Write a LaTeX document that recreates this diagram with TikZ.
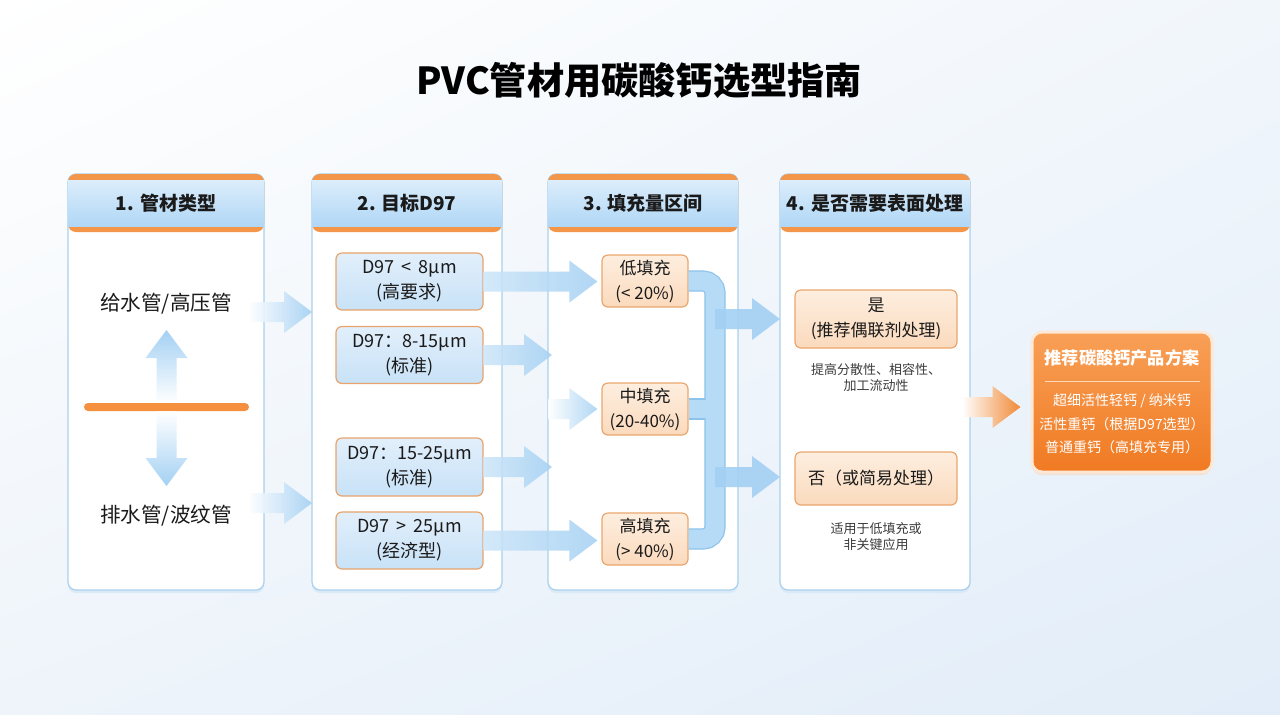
\documentclass[tikz,border=0pt]{standalone}
\usepackage{fontspec}
\setmainfont{Noto Sans CJK SC}
\usetikzlibrary{positioning,calc,shadows,shadings}

\definecolor{ink}{HTML}{1A1A1A}
\definecolor{panelline}{HTML}{A9D0EC}
\definecolor{shadowblue}{HTML}{D6E8F7}
\definecolor{hdrtop}{HTML}{DCEDFB}
\definecolor{hdrbot}{HTML}{B0D7F6}
\definecolor{hdrorange}{HTML}{F4964A}
\definecolor{dline}{HTML}{E8A46C}
\definecolor{dtop}{HTML}{E2EFFB}
\definecolor{dbot}{HTML}{C8E2F7}
\definecolor{fline}{HTML}{EBA66E}
\definecolor{ftop}{HTML}{FDEEDF}
\definecolor{fbot}{HTML}{FBDABD}
\definecolor{arrowblue}{HTML}{A3D0F3}
\definecolor{pipeline}{HTML}{8DC3EB}
\definecolor{pipefill}{HTML}{B5DBF7}
\definecolor{barorange}{HTML}{F4903E}
\definecolor{restop}{HTML}{F8A057}
\definecolor{resbot}{HTML}{F07A22}
\definecolor{outorange}{HTML}{F08A36}
\definecolor{bgtr}{HTML}{F1F6FB}
\definecolor{bgbl}{HTML}{EEF4FA}
\definecolor{bgbr}{HTML}{E2EDF9}

\begin{document}
\begin{tikzpicture}[x=0.5pt, y=-0.5pt, every node/.style={font=\fontsize{8.5}{12.5}\selectfont, text=ink}]
    \tikzset{panel/.style={rectangle, draw=panelline, fill=white, rounded corners=4pt, line width=0.6pt, outer sep=0pt, minimum width=95pt, minimum height=208pt, drop shadow={shadow xshift=0pt, shadow yshift=-1.5pt, fill=shadowblue, opacity=0.8}}}
    \tikzset{hdr/.style={rectangle, top color=hdrtop, bottom color=hdrbot, minimum width=95pt, minimum height=23pt, inner sep=0pt, font=\bfseries\fontsize{9.5}{11}\selectfont}}
    \tikzset{dbox/.style={rectangle, draw=dline, top color=dtop, bottom color=dbot, rounded corners=3pt, line width=0.6pt, minimum width=73.5pt, minimum height=28.5pt, inner sep=0pt, align=center, font=\fontsize{9}{12.5}\selectfont}}
    \tikzset{fbox/.style={rectangle, draw=fline, top color=ftop, bottom color=fbot, rounded corners=3pt, line width=0.6pt, minimum width=43pt, minimum height=26pt, inner sep=0pt, align=center}}
    \tikzset{ybox/.style={fbox, minimum width=81pt, minimum height=29pt}}
    \tikzset{note/.style={align=center, font=\fontsize{6.5}{8}\selectfont, text=ink!85}}
    \tikzset{barrow/.style={to path={let \p1=(\tikztostart), \p2=(\tikztotarget) in
        (\x1,\y1+5pt) -- (\x2-14pt,\y1+5pt) -- (\x2-14pt,\y1+10.5pt) -- (\x2,\y1)
        -- (\x2-14pt,\y1-10.5pt) -- (\x2-14pt,\y1-5pt) -- (\x1,\y1-5pt) -- cycle}}}
    \tikzset{uarrow/.style={to path={let \p1=(\tikztostart), \p2=(\tikztotarget) in
        (\x1-5pt,\y1) -- (\x1-5pt,\y2-14pt) -- (\x1-10.5pt,\y2-14pt) -- (\x1,\y2)
        -- (\x1+10.5pt,\y2-14pt) -- (\x1+5pt,\y2-14pt) -- (\x1+5pt,\y1) -- cycle}}}
    \tikzset{darrow/.style={to path={let \p1=(\tikztostart), \p2=(\tikztotarget) in
        (\x1-5pt,\y1) -- (\x1-5pt,\y2+14pt) -- (\x1-10.5pt,\y2+14pt) -- (\x1,\y2)
        -- (\x1+10.5pt,\y2+14pt) -- (\x1+5pt,\y2+14pt) -- (\x1+5pt,\y1) -- cycle}}}
    \tikzset{fadearrow/.style={left color=white, right color=arrowblue, opacity=0.9}}
    \tikzset{flowarrow/.style={left color=arrowblue!55, right color=arrowblue, opacity=0.85}}

    % Background
    \useasboundingbox (0,0) rectangle (1280,714);
    \shade[upper left=white, upper right=bgtr, lower left=bgbl, lower right=bgbr] (0,0) rectangle (1280,714);
    \node[font=\bfseries\fontsize{18.6}{20}\selectfont, text=black] (title) at (639,80) {PVC管材用碳酸钙选型指南};

    % Panels
    \node [panel, minimum width=98pt] (p1) at (166,382) {};
    \node [panel] (p2) at (407,382) {};
    \node [panel] (p3) at (643,382) {};
    \node [panel] (p4) at (875,382) {};
    \fill [hdrorange, rounded corners=4pt] (p1.north west) rectangle ++(196,58);
    \fill [hdrorange, rounded corners=4pt] (p2.north west) rectangle ++(190,58);
    \fill [hdrorange, rounded corners=4pt] (p3.north west) rectangle ++(190,58);
    \fill [hdrorange, rounded corners=4pt] (p4.north west) rectangle ++(190,58);
    \node [hdr, minimum width=98pt] (h1) at (166,203) {1. 管材类型};
    \node [hdr] (h2) at (407,203) {2. 目标D97};
    \node [hdr] (h3) at (643,203) {3. 填充量区间};
    \node [hdr] (h4) at (875,203) {4. 是否需要表面处理};

    % Pipe types
    \node [font=\fontsize{10.3}{12}\selectfont] (t1) at (166,304) {给水管/高压管};
    \node [font=\fontsize{10.3}{12}\selectfont] (t2) at (166,516) {排水管/波纹管};
    \node [fill=barorange, rounded corners=2pt, minimum width=82.5pt, minimum height=4pt, inner sep=0pt] (bar) at (166.5,407) {};
    \coordinate (upt) at (166,330);
    \coordinate (dnt) at (166,486);
    \shade [bottom color=white, top color=arrowblue] (bar.north) to[uarrow] (upt);
    \shade [top color=white, bottom color=arrowblue] (bar.south) to[darrow] (dnt);

    % D97
    \node [dbox] (d1) at (409.5,281.5) {D97 \,<\, 8μm\\(高要求)};
    \node [dbox] (d2) at (409.5,355) {D97：8-15μm\\(标准)};
    \node [dbox, minimum height=29pt] (d3) at (409.5,467) {D97：15-25μm\\(标准)};
    \node [dbox] (d4) at (409.5,540.5) {D97 \,>\, 25μm\\(经济型)};

    % Filling
    \node [fbox] (f1) at (645,281) {低填充\\(< 20\%)};
    \node [fbox] (f2) at (645,409) {中填充\\(20-40\%)};
    \node [fbox] (f3) at (645,539) {高填充\\(> 40\%)};

    % Surface treatment
    \node [ybox] (y1) at (876,319) {是\\(推荐偶联剂处理)};
    \node [note, below=4pt of y1] (y1n) {提高分散性、相容性、\\加工流动性};
    \node [ybox, minimum height=26.5pt] (n1) at (876,478.5) {否（或简易处理）};
    \node [note, below=5pt of n1] (n1n) {适用于低填充或\\非关键应用};

    % Result
    \node [rectangle, top color=restop, bottom color=resbot, draw=white!75!restop, line width=1.5pt, rounded corners=5pt, minimum width=90pt, minimum height=70pt, drop shadow={shadow xshift=0pt, shadow yshift=-1.5pt, fill=resbot!30, opacity=0.6}] (res) at (1122,402) {};
    \node [font=\bfseries\fontsize{8.6}{10}\selectfont, text=white] (rt) at (1122,358) {推荐碳酸钙产品方案};
    \node [align=center, font=\fontsize{7}{11.7}\selectfont, text=white] (rl) at (1122,424) {超细活性轻钙 / 纳米钙\\活性重钙（根据D97选型）\\普通重钙（高填充专用）};
    \draw [white!60!restop, line width=0.5pt] ($(res.west |- rt.south)+(14,8)$) -- ($(res.east |- rt.south)+(-14,8)$);

    % Arrows
    \coordinate (a1s) at (248,312);
    \coordinate (a2s) at (248,503);
    \path [fadearrow] (a1s) to[barrow] (p2.west |- a1s);
    \path [fadearrow] (a2s) to[barrow] (p2.west |- a2s);

    \path [flowarrow] (d1.east) to[barrow] ([xshift=-2pt]f1.west);
    \path [flowarrow] (d2.east) to[barrow] ([xshift=2pt]p3.west |- d2.east);
    \coordinate (b3s) at (548,409);
    \path [flowarrow, left color=white] (b3s) to[barrow] ([xshift=-2pt]f2.west);
    \path [flowarrow] (d3.east) to[barrow] ([xshift=2pt]p3.west |- d3.east);
    \path [flowarrow] (d4.east) to[barrow] ([xshift=-2pt]f3.west);

    \coordinate (bus) at (715,409);
    \draw [pipeline, line width=10.6pt, rounded corners=6pt] (f1.east) -| (bus) |- (f3.east);
    \draw [pipeline, line width=10.6pt] (f2.east) -- (bus);
    \draw [pipefill, line width=9.4pt, rounded corners=6pt] (f1.east) -| (bus) |- (f3.east);
    \draw [pipefill, line width=9.4pt] (f2.east) -- (bus);

    \coordinate (c1s) at (715,319);
    \coordinate (c2s) at (715,477);
    \path [fill=arrowblue, opacity=0.9] (c1s) to[barrow] (p4.west |- c1s);
    \path [fill=arrowblue, opacity=0.9] (c2s) to[barrow] (p4.west |- c2s);

    \coordinate (oas) at (962,407);
    \path [left color=white, right color=outorange] (oas) to[barrow] ([xshift=-5pt]res.west |- oas);
\end{tikzpicture}
\end{document}
